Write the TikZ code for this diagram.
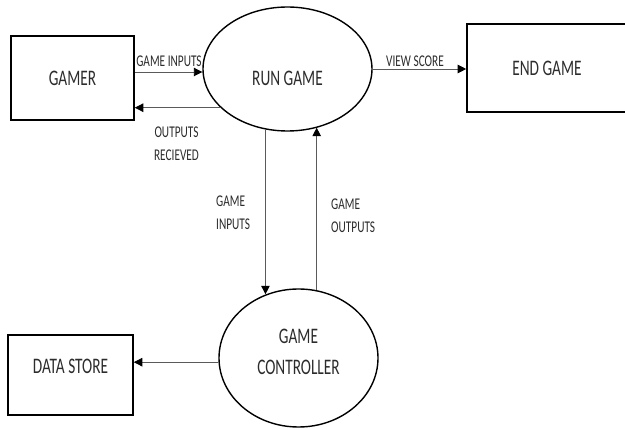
\documentclass[tikz,border=0pt]{standalone}
\usepackage{fontspec}
\setmainfont{Carlito}
\usetikzlibrary{arrows.meta,shapes.geometric}

% Tall, narrow lettering: text is stretched vertically
\newcommand{\bigtxt}[2][c]{\scalebox{1}[1.45]{\fontsize{15.3}{21.4}\selectfont\begin{tabular}{@{}#1@{}}#2\end{tabular}}}
\newcommand{\smalltxt}[2][c]{\scalebox{1}[1.45]{\fontsize{11.3}{15.9}\selectfont\begin{tabular}{@{}#1@{}}#2\end{tabular}}}
\newcommand{\bigone}[1]{\scalebox{1}[1.45]{\fontsize{15.3}{18}\selectfont #1}}
\newcommand{\smallone}[1]{\scalebox{1}[1.45]{\fontsize{11.3}{14}\selectfont #1}}

\definecolor{inkgray}{HTML}{2C2C2C}
\definecolor{linegray}{HTML}{5A5A5A}

\begin{document}
\begin{tikzpicture}[x=1pt,y=-1pt,
  entity/.style={draw=black, line width=1.6pt, rectangle, inner sep=0pt},
  process/.style={draw=black, line width=1.4pt, ellipse, inner sep=0pt},
  txt/.style={text=inkgray, inner sep=0pt},
  flow/.style={draw=linegray, line width=0.9pt,
    -{Triangle[length=8.5pt,width=8.5pt,color=black]}}
]
\useasboundingbox (0,0) rectangle (625,430);
\clip (0,0) rectangle (625,430);

% External entities and processes
\node[entity, minimum width=123pt, minimum height=84pt] (gamer) at (72.5,78) {};
\node[txt] (gamertxt) at (gamer.center) {\bigone{GAMER}};

\node[process, minimum width=169pt, minimum height=124pt] (run) at (287.5,69) {};
\node[txt] (runtxt) at (287.5,78) {\bigone{RUN GAME}};

\node[entity, minimum width=160pt, minimum height=88pt] (endg) at (547,68) {};
\node[txt] (endtxt) at (endg.center) {\bigone{END GAME}};

\node[process, minimum width=159pt, minimum height=138pt] (ctrl) at (298.5,358) {};
\node[txt] (ctrltxt) at (298.5,352.5) {\bigtxt{GAME\\CONTROLLER}};

\node[entity, minimum width=125pt, minimum height=80pt] (store) at (70.5,375) {};
\node[txt] (storetxt) at (70.5,366) {\bigone{DATA STORE}};

% Data flows
\draw[flow] ([yshift=-3pt]gamer.east |- run.west) -- ([yshift=-3pt]run.west);
\draw[flow] (run.210) -- (gamer.east |- run.210);
\draw[flow] (run.east) -- (endg.west |- run.east);
\draw[flow] (run.250) -- (run.250 |- ctrl.117);
\draw[flow] (ctrl.75) -- (ctrl.75 |- run.297);
\draw[flow] (ctrl.183) -- (store.east |- ctrl.183);

% Flow labels
\node[txt] (lblin) at (169,61) {\smallone{GAME INPUTS}};
\node[txt] (lblout) at (176.5,144) {\smalltxt{OUTPUTS\\RECIEVED}};
\node[txt] (lblscore) at (415,61) {\smallone{VIEW SCORE}};
\node[txt, anchor=west] (lblgin) at (216,213.5) {\smalltxt[l]{GAME\\INPUTS}};
\node[txt, anchor=west] (lblgout) at (331,216.5) {\smalltxt[l]{GAME\\OUTPUTS}};
\end{tikzpicture}
\end{document}
